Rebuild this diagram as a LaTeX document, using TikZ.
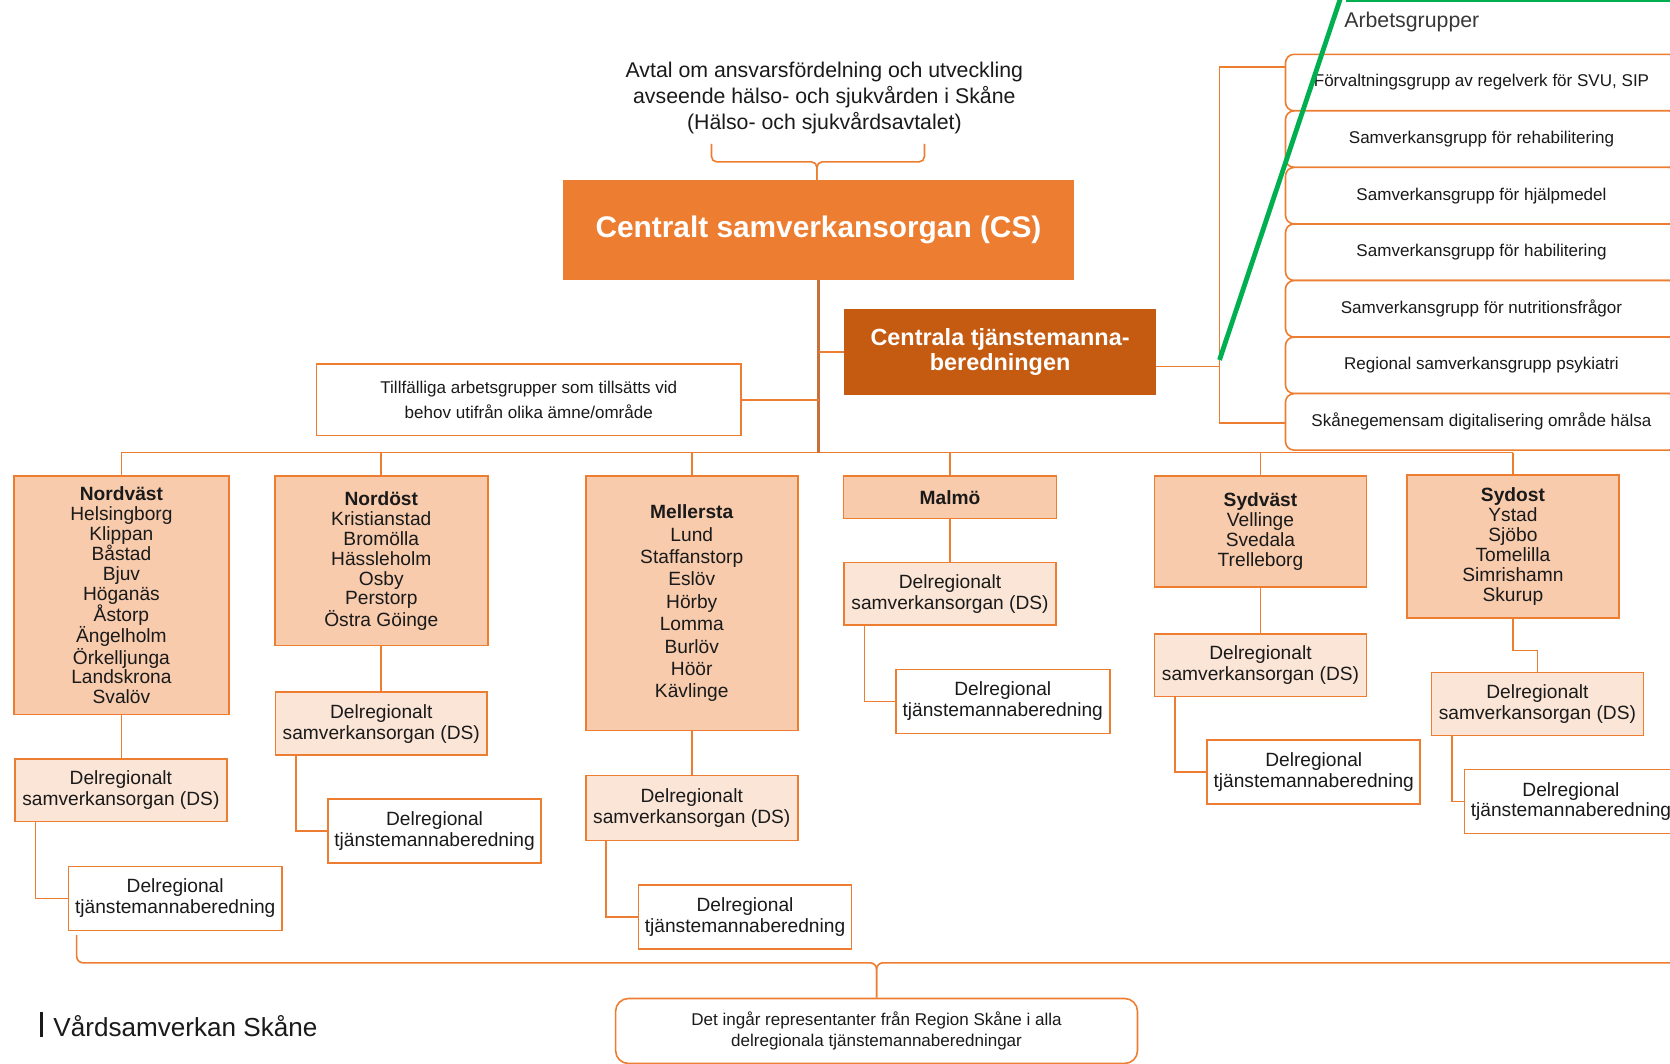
\documentclass[tikz,border=0pt]{standalone}
\usepackage{fontspec}
\setmainfont{Liberation Sans}
\usetikzlibrary{calc}
\definecolor{org}{HTML}{ED7D31}
\definecolor{dorg}{HTML}{C55A11}
\definecolor{regfill}{HTML}{F8CBAD}
\definecolor{dsfill}{HTML}{FBE5D6}
\definecolor{txt}{HTML}{1A1A1A}
\definecolor{grn}{HTML}{00B050}
\definecolor{trunkc}{HTML}{C8703A}
\tikzset{
 base/.style={draw=org, line width=1.5pt, inner sep=0pt, align=center, text=txt},
 regbox/.style={base, fill=regfill, font=\fontsize{18}{18.7}\selectfont},
 dsbox/.style={base, fill=dsfill, minimum width=199, minimum height=59, font=\fontsize{18}{19.8}\selectfont},
 dtbox/.style={base, fill=white, minimum width=200, minimum height=60, font=\fontsize{18}{19.5}\selectfont},
 grpbox/.style={base, fill=white, rounded corners=8pt, minimum width=368, minimum height=53, font=\fontsize{16}{19}\selectfont},
 conn/.style={draw=org, line width=1.5pt},
 trunkline/.style={draw=trunkc, line width=2.2pt},
}
\begin{document}
\begin{tikzpicture}[x=1pt,y=-1pt]
\useasboundingbox (0,0) rectangle (1568,999);
\clip (0,0) rectangle (1568,999);
\fill[white] (0,0) rectangle (1568,999);

% top text and central organs
\node[align=center, text=txt, font=\fontsize{20}{24.5}\selectfont, inner sep=0pt] (avtal) at (774,92)
  {Avtal om ansvarsfördelning och utveckling\\avseende hälso- och sjukvården i Skåne\\(Hälso- och sjukvårdsavtalet)};
\node[base, fill=org, text=white, minimum width=479, minimum height=92, font=\bfseries\fontsize{28}{32}\selectfont] (cs) at (768.5,216) {Centralt samverkansorgan (CS)};
\node[base, draw=dorg, fill=dorg, text=white, minimum width=292, minimum height=79, font=\bfseries\fontsize{22}{24}\selectfont] (ct) at (939,330.5) {Centrala tjänstemanna-\\beredningen};
\node[base, fill=white, minimum width=399, minimum height=67, font=\fontsize{16}{23}\selectfont] (tf) at (496.5,375.5) {Tillfälliga arbetsgrupper som tillsätts vid\\behov utifrån olika ämne/område};

% top brace
\coordinate (tbl) at (668,135);
\coordinate (tbr) at (868,135);
\coordinate (tbm) at (767,152);
\draw[conn, rounded corners=5pt] (tbl) |- (tbm) -- (tbm |- cs.north);
\draw[conn, rounded corners=5pt] (tbr) |- (tbm) -- (tbm |- cs.north);

% working groups
\node[anchor=west, text=black!78, font=\fontsize{20}{24}\selectfont, inner sep=0pt] (arb) at (1262,21) {Arbetsgrupper};
\node[grpbox] (g1) at (1391,77.5) {Förvaltningsgrupp av regelverk för SVU, SIP};
\node[grpbox] (g2) at (1391,130.6) {Samverkansgrupp för rehabilitering};
\node[grpbox] (g3) at (1391,183.7) {Samverkansgrupp för hjälpmedel};
\node[grpbox] (g4) at (1391,236.8) {Samverkansgrupp för habilitering};
\node[grpbox] (g5) at (1391,289.9) {Samverkansgrupp för nutritionsfrågor};
\node[grpbox] (g6) at (1391,343) {Regional samverkansgrupp psykiatri};
\node[grpbox] (g7) at (1391,396.1) {Skånegemensam digitalisering område hälsa};

\coordinate (bktop) at (1145,63);
\coordinate (bkmid) at (1145,344);
\coordinate (bkbot) at (1145,397);
\draw[conn] (g1.west |- bktop) -- (bktop) -- (bkbot) -- (g7.west |- bkbot);
\draw[conn] (ct.east |- bkmid) -- (bkmid);

% green marks
\draw[grn, line width=4.5pt] (1145,338) -- (1261.4,-10);
\draw[grn, line width=4pt] (1264,0) -- (1575,0);

% regions
\node[regbox, minimum width=202, minimum height=224] (nv) at (114,559)
 {\textbf{Nordväst}\\Helsingborg\\Klippan\\Båstad\\Bjuv\\Höganäs\\Åstorp\\Ängelholm\\Örkelljunga\\Landskrona\\Svalöv};
\node[regbox, minimum width=200, minimum height=159] (no) at (358,526.5)
 {\textbf{Nordöst}\\Kristianstad\\Bromölla\\Hässleholm\\Osby\\Perstorp\\Östra Göinge};
\node[regbox, minimum width=199, minimum height=239, font=\fontsize{18}{21}\selectfont] (me) at (649.5,566.5)
 {\textbf{Mellersta}\\Lund\\Staffanstorp\\Eslöv\\Hörby\\Lomma\\Burlöv\\Höör\\Kävlinge};
\node[regbox, minimum width=200, minimum height=40] (ma) at (892,467) {\textbf{Malmö}};
\node[regbox, minimum width=199, minimum height=104] (sv) at (1183.5,499)
 {\textbf{Sydväst}\\Vellinge\\Svedala\\Trelleborg};
\node[regbox, minimum width=199, minimum height=134] (so) at (1420.5,513)
 {\textbf{Sydost}\\Ystad\\Sjöbo\\Tomelilla\\Simrishamn\\Skurup};

% bus
\coordinate (busL) at (113,425);
\draw[conn] (nv.north |- busL) -- (so.north |- busL);
\foreach \r in {nv,no,me,ma,sv,so} {\draw[conn] (\r.north) -- (\r.north |- busL);}
\draw[trunkline] (cs.south) -- (cs.south |- busL);
\draw[conn] (cs.south |- ct.west) -- (ct.west);
\draw[conn] (tf.east) -- (cs.south |- tf.east);

% DS boxes
\node[dsbox] (nvds) at (113.5,742) {Delregionalt\\samverkansorgan (DS)};
\node[dsbox] (nods) at (358,679.5) {Delregionalt\\samverkansorgan (DS)};
\node[dsbox, minimum height=61] (meds) at (649.5,758.5) {Delregionalt\\samverkansorgan (DS)};
\node[dsbox] (mads) at (892,557.5) {Delregionalt\\samverkansorgan (DS)};
\node[dsbox] (svds) at (1183.5,624.5) {Delregionalt\\samverkansorgan (DS)};
\node[dsbox] (sods) at (1443.5,661) {Delregionalt\\samverkansorgan (DS)};

% DT boxes
\node[dtbox] (nvdt) at (164.5,843.5) {Delregional\\tjänstemannaberedning};
\node[dtbox] (nodt) at (408,780) {Delregional\\tjänstemannaberedning};
\node[dtbox] (medt) at (699.5,861) {Delregional\\tjänstemannaberedning};
\node[dtbox, minimum width=201] (madt) at (941.5,658.5) {Delregional\\tjänstemannaberedning};
\node[dtbox] (svdt) at (1233.5,725) {Delregional\\tjänstemannaberedning};
\node[dtbox] (sodt) at (1475,752.5) {Delregional\\tjänstemannaberedning};

% region -> DS
\foreach \r in {nv,no,me,ma,sv} {\draw[conn] (\r.south) -- (\r.south |- \r ds.north);}
\draw[conn] (so.south) -- ++(0,30) -| (sods.north);

% DS -> DT
\foreach \r in {nv,no,me,ma,sv,so} {\draw[conn] ([xshift=20pt]\r ds.south west) |- (\r dt.west);}

% bottom note
\node[base, fill=white, rounded corners=12pt, minimum width=490, minimum height=61, font=\fontsize{16}{20}\selectfont] (det) at (823,968)
 {Det ingår representanter från Region Skåne i alla\\delregionala tjänstemannaberedningar};
\coordinate (bbl) at (72,878);
\coordinate (bbr) at (1575,904);
\draw[conn, rounded corners=6pt] (bbl) |- (det.north |- bbr) -- (det.north);
\draw[conn, rounded corners=6pt] (bbr) -| (det.north);

% logo
\draw[txt, line width=2pt] (39,950) -- (39,974);
\node[anchor=west, text=txt, inner sep=0pt, font=\fontsize{24.5}{28}\selectfont] (logo) at (50,963) {Vårdsamverkan Skåne};
\end{tikzpicture}
\end{document}
